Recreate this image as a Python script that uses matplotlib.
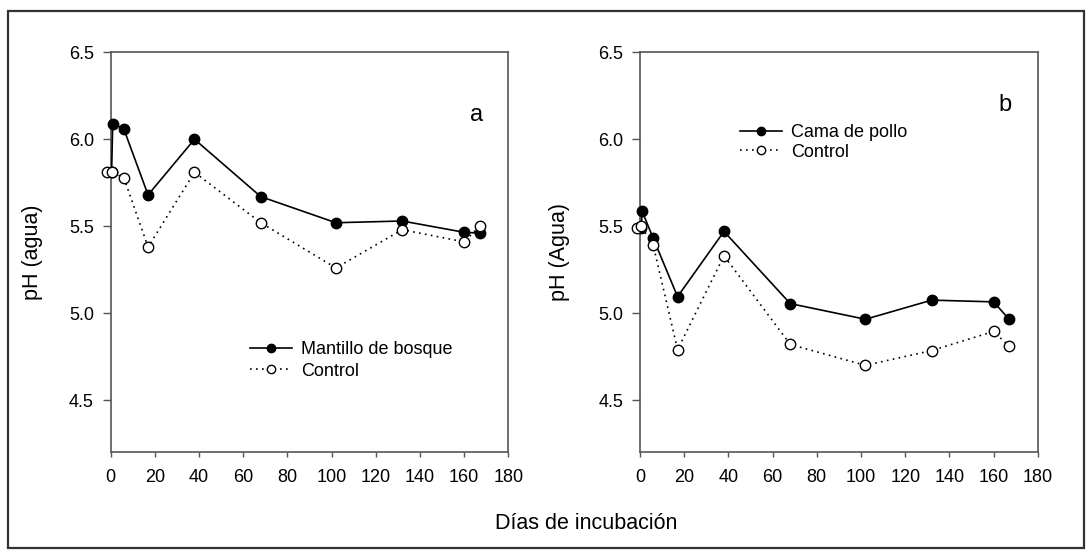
import matplotlib
matplotlib.use("Agg")
import matplotlib.pyplot as plt
from matplotlib.patches import Rectangle

plt.rcParams['font.family'] = ['Liberation Sans', 'DejaVu Sans']

# ---- data ----
days_trt = [0.5, 1, 6, 17, 38, 68, 102, 132, 160, 167]
days_ctl = [-1.5, 0.5, 6, 17, 38, 68, 102, 132, 160, 167]

mantillo = [5.81, 6.09, 6.06, 5.68, 6.00, 5.67, 5.52, 5.53, 5.465, 5.46]
control_a = [5.81, 5.81, 5.78, 5.38, 5.81, 5.52, 5.26, 5.48, 5.41, 5.50]

cama = [5.49, 5.585, 5.43, 5.095, 5.47, 5.055, 4.965, 5.075, 5.065, 4.965]
control_b = [5.49, 5.50, 5.39, 4.79, 5.33, 4.82, 4.70, 4.785, 4.895, 4.81]

xticks = [0, 20, 40, 60, 80, 100, 120, 140, 160, 180]
yticks = [4.5, 5.0, 5.5, 6.0, 6.5]

W, H = 1091, 556
fig = plt.figure(figsize=(W / 100, H / 100), dpi=100)

# outer border
fig.patches.append(Rectangle((8 / W, 1 - 548 / H), (1084 - 8) / W, (548 - 11) / H,
                             transform=fig.transFigure, fill=False,
                             edgecolor='#333333', linewidth=1.6))

ax_w = 397.8 / W
ax_h = 400 / H
ax_b = 1 - 452.3 / H
axA = fig.add_axes([110.5 / W, ax_b, ax_w, ax_h])
axB = fig.add_axes([640 / W, ax_b, ax_w, ax_h])

spine_col = '#555555'
ms = 7.5
dot = (0, (1, 2.6))

def style(ax, ylabel, lx):
    ax.set_xlim(0, 180)
    ax.set_ylim(4.2, 6.5)
    ax.set_xticks(xticks)
    ax.set_yticks(yticks)
    ax.set_yticklabels([f"{v:.1f}" for v in yticks])
    for s in ax.spines.values():
        s.set_color(spine_col)
        s.set_linewidth(1.2)
    ax.tick_params(axis='y', direction='out', length=6, width=1, color=spine_col,
                   pad=6, labelsize=13, labelcolor='black')
    ax.tick_params(axis='x', direction='out', length=3.8, width=1, color=spine_col,
                   pad=8, labelsize=13, labelcolor='black')
    ax.set_ylabel(ylabel, fontsize=15.5)
    ax.yaxis.set_label_coords(lx, 0.5)

def draw(ax, trt, ctl, trt_label):
    l1, = ax.plot(days_trt, trt, color='black', lw=1.2, marker='o', ms=ms,
                  mfc='black', mec='black', clip_on=False, zorder=3,
                  label=trt_label)
    l2, = ax.plot(days_ctl, ctl, color='black', lw=1.2, ls=dot, marker='o', ms=ms,
                  mfc='white', mec='black', mew=1.0, clip_on=False, zorder=4,
                  label='Control')
    return l1, l2

style(axA, 'pH (agua)', -67.2 / 397.8)
style(axB, 'pH (Agua)', -70 / 397.8)

hA = draw(axA, mantillo, control_a, 'Mantillo de bosque')
hB = draw(axB, cama, control_b, 'Cama de pollo')

leg_kw = dict(frameon=False, fontsize=13, handlelength=2.3, handletextpad=0.55,
              borderpad=0, borderaxespad=0, loc='center left', markerscale=0.8,
              labelspacing=0.25)
axA.legend(handles=hA, bbox_to_anchor=(250 / W, 1 - 360.3 / H),
           bbox_transform=fig.transFigure, **leg_kw)
legB_kw = dict(leg_kw)
legB_kw['labelspacing'] = 0.15
axB.legend(handles=hB, bbox_to_anchor=(740 / W, 1 - 142.4 / H),
           bbox_transform=fig.transFigure, **legB_kw)

fig.text(477 / W, 1 - 121 / H, 'a', fontsize=17, ha='center', va='baseline')
fig.text(1005 / W, 1 - 111 / H, 'b', fontsize=17, ha='center', va='baseline')

fig.text(586 / W, 1 - 529.3 / H, 'Días de incubación', fontsize=15.5,
         ha='center', va='baseline')

fig.savefig('out.png', dpi=100)
